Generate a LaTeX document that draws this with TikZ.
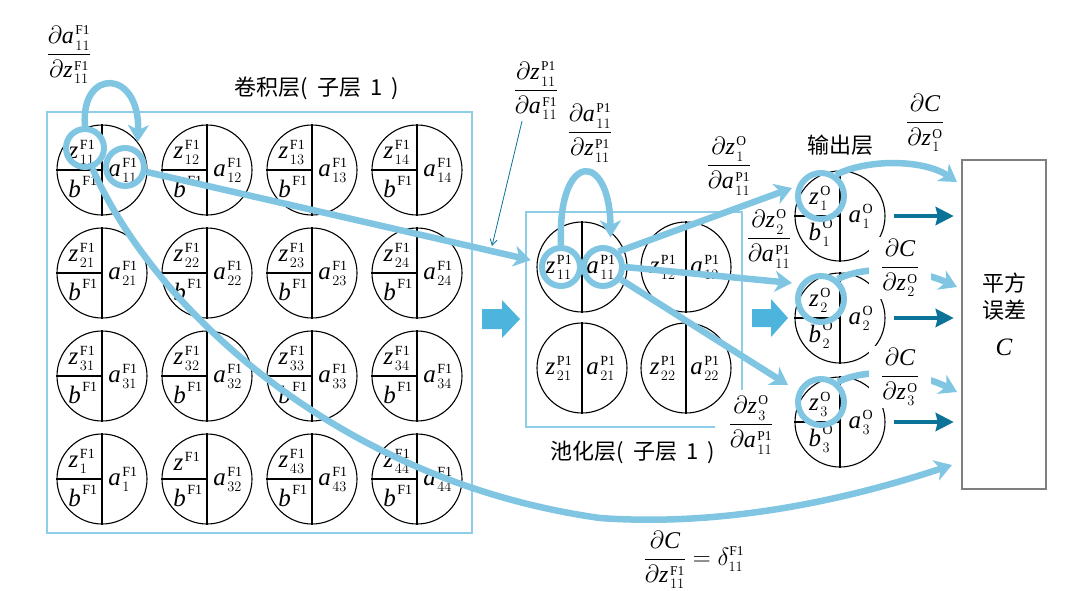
\documentclass[tikz,border=0pt]{standalone}
\usepackage{fontspec}
\setmainfont{Liberation Serif}
\newfontfamily\cjk{Noto Sans CJK SC}
\usetikzlibrary{arrows.meta}
\DeclareMathSizes{25}{25}{14}{10}
\DeclareMathSizes{24}{24}{13.5}{10}
\definecolor{lb}{HTML}{80C6E3}
\definecolor{boxb}{HTML}{8ECDE8}
\definecolor{bigb}{HTML}{4DB4DD}
\definecolor{deepb}{HTML}{0B7398}
\definecolor{gbox}{HTML}{7F7F7F}
\newcommand\supF{\mathrm{F1}}
\newcommand\supP{\mathrm{P1}}
\newcommand\supO{\mathrm{O}}
\newcommand\vz{{\textit{z}\kern1.5pt}}
\newcommand\va{{\textit{a}\kern1.5pt}}
\newcommand\vb{{\textit{b}\kern1.5pt}}
\newcommand\vC{\textit{C}}
\newcommand\qcell[6]{%
  \node[cell] (#1) at (#2,#3) {};
  \draw[line width=1.1pt] (#1.north) -- (#1.south) (#1.west) -- (#1.center);
  \node[lbl] (#1z) at (#2-20,#3-18) {$#4$};
  \node[lbl] (#1b) at (#2-19,#3+17) {$#5$};
  \node[lbl] (#1a) at (#2+21,#3) {$#6$};
}
\newcommand\hcell[5]{%
  \node[cell] (#1) at (#2,#3) {};
  \draw[line width=1.1pt] (#1.north) -- (#1.south);
  \node[lbl] (#1z) at (#2-23,#3) {$#4$};
  \node[lbl] (#1a) at (#2+19,#3) {$#5$};
}
\tikzset{
  cell/.style={circle,draw=black,line width=1.1pt,minimum size=90pt,inner sep=0pt},
  ring/.style={circle,draw=lb,line width=6pt,inner sep=0pt},
  flow/.style={draw=lb,line width=6.5pt,-{Stealth[length=17pt,width=21pt,inset=5pt]}},
  lbl/.style={inner sep=0pt,font=\fontsize{25}{27}\selectfont},
  frac/.style={inner sep=1pt,font=\fontsize{24}{26}\selectfont},
  ttl/.style={inner sep=0pt,font=\cjk\fontsize{22}{26}\selectfont},
  laybox/.style={draw=boxb,line width=2.5pt},
  outarrow/.style={draw=deepb,line width=4pt,-{Stealth[length=18pt,width=18pt,inset=2pt]}},
}
\begin{document}
\begin{tikzpicture}[x=1pt,y=-1pt]
\useasboundingbox (0,0) rectangle (1076,590);
% layer boxes
\draw[laybox] (47,112) rectangle (472,533);
\draw[laybox] (715,427) -- (526,427) -- (526,212) -- (742,212) -- (742,390);
% convolution layer
\qcell{c11}{102}{170}{\vz^{\supF}_{11}}{\vb^{\supF}}{\va^{\supF}_{11}}
\qcell{c12}{207}{170}{\vz^{\supF}_{12}}{\vb^{\supF}}{\va^{\supF}_{12}}
\qcell{c13}{312}{170}{\vz^{\supF}_{13}}{\vb^{\supF}}{\va^{\supF}_{13}}
\qcell{c14}{417}{170}{\vz^{\supF}_{14}}{\vb^{\supF}}{\va^{\supF}_{14}}
\qcell{c21}{102}{273}{\vz^{\supF}_{21}}{\vb^{\supF}}{\va^{\supF}_{21}}
\qcell{c22}{207}{273}{\vz^{\supF}_{22}}{\vb^{\supF}}{\va^{\supF}_{22}}
\qcell{c23}{312}{273}{\vz^{\supF}_{23}}{\vb^{\supF}}{\va^{\supF}_{23}}
\qcell{c24}{417}{273}{\vz^{\supF}_{24}}{\vb^{\supF}}{\va^{\supF}_{24}}
\qcell{c31}{102}{376}{\vz^{\supF}_{31}}{\vb^{\supF}}{\va^{\supF}_{31}}
\qcell{c32}{207}{376}{\vz^{\supF}_{32}}{\vb^{\supF}}{\va^{\supF}_{32}}
\qcell{c33}{312}{376}{\vz^{\supF}_{33}}{\vb^{\supF}}{\va^{\supF}_{33}}
\qcell{c34}{417}{376}{\vz^{\supF}_{34}}{\vb^{\supF}}{\va^{\supF}_{34}}
\qcell{c41}{102}{479}{\vz^{\supF}_{1}}{\vb^{\supF}}{\va^{\supF}_{1}}
\qcell{c42}{207}{479}{\vz^{\supF}}{\vb^{\supF}}{\va^{\supF}_{32}}
\qcell{c43}{312}{479}{\vz^{\supF}_{43}}{\vb^{\supF}}{\va^{\supF}_{43}}
\qcell{c44}{417}{479}{\vz^{\supF}_{44}}{\vb^{\supF}}{\va^{\supF}_{44}}
% pooling layer
\hcell{p11}{582}{267}{\vz^{\supP}_{11}}{\va^{\supP}_{11}}
\hcell{p12}{686}{267}{\vz^{\supP}_{12}}{\va^{\supP}_{12}}
\hcell{p21}{582}{368}{\vz^{\supP}_{21}}{\va^{\supP}_{21}}
\hcell{p22}{686}{368}{\vz^{\supP}_{22}}{\va^{\supP}_{22}}
% output layer
\qcell{o1}{840}{216}{\vz^{\supO}_{1}}{\vb^{\supO}_{1}}{\va^{\supO}_{1}}
\qcell{o2}{840}{318}{\vz^{\supO}_{2}}{\vb^{\supO}_{2}}{\va^{\supO}_{2}}
\qcell{o3}{840}{422}{\vz^{\supO}_{3}}{\vb^{\supO}_{3}}{\va^{\supO}_{3}}
% cost box
\node[draw=gbox,line width=2.5pt,minimum width=84pt,minimum height=329pt,inner sep=0pt] (cbox) at (1004,324.5) {};
\node[ttl] (ct1) at (1004,283) {平方};
\node[ttl] (ct2) at (1004,310) {误差};
\node[lbl] (ct3) at (1004,347) {\vC};
% block arrows
\fill[bigb] (482,309) -- (502,309) -- (502,300) -- (520,319) -- (502,338) -- (502,329) -- (482,329) -- cycle;
\fill[bigb] (752,309) -- (771,309) -- (771,299) -- (788,318) -- (771,337) -- (771,327) -- (752,327) -- cycle;
% rings
\node[ring,minimum size=38pt] (rz) at (85,148) {};
\node[ring,minimum size=38pt] (ra) at (125,167) {};
\node[ring,minimum size=38pt] (pz) at (561,267) {};
\node[ring,minimum size=38pt] (pa) at (603,267) {};
\node[ring,minimum size=46pt] (oz1) at (821,196) {};
\node[ring,minimum size=46pt] (oz2) at (821,299) {};
\node[ring,minimum size=46pt] (oz3) at (821,402) {};
% coordinates for free ends
\coordinate (t1) at (792,188);
\coordinate (t2) at (792,283);
\coordinate (t3) at (788,385);
\coordinate (e1) at (957,182);
\coordinate (e2) at (957,287);
\coordinate (e3) at (957,392);
\coordinate (e4) at (952,465);
\coordinate (tg) at (492,246);
% flows
\draw[flow,shorten >=7pt] (rz.north) .. controls (80,68) and (140,68) .. (ra.55);
\draw[flow,shorten >=9pt] (pz.north) .. controls (557,150) and (610,150) .. (pa.70);
\draw[flow,shorten >=9pt] (ra) -- (pz);
\draw[flow] (rz.-70) .. controls (150,300) and (330,480) .. (600,518) .. controls (740,528) and (870,492) .. (e4);
\draw[flow] (pa.45) -- (t1);
\draw[flow] (pa.east) -- (t2);
\draw[flow] (pa.-35) -- (t3);
\draw[flow] (oz1.55) .. controls (870,158) and (925,160) .. (e1);
\draw[flow] (oz2.50) .. controls (865,265) and (915,268) .. (e2);
\draw[flow] (oz3.50) .. controls (865,368) and (915,371) .. (e3);
% output arrows
\draw[outarrow,shorten <=8pt,shorten >=7pt] (o1.east) -- (o1.east -| cbox.west);
\draw[outarrow,shorten <=8pt,shorten >=7pt] (o2.east) -- (o2.east -| cbox.west);
\draw[outarrow,shorten <=8pt,shorten >=7pt] (o3.east) -- (o3.east -| cbox.west);
% titles
\node[ttl] (tconv) at (317,88) {卷积层(\hspace{9pt}子层\hspace{9pt}1\hspace{9pt})};
\node[ttl] (tpool) at (633,452) {池化层(\hspace{9pt}子层\hspace{9pt}1\hspace{9pt})};
\node[ttl] (tout) at (840,145) {输出层};
% fractions
\node[frac] (fa) at (69,55) {$\displaystyle\frac{\partial\va^{\supF}_{11}}{\partial\vz^{\supF}_{11}}$};
\node[frac] (fzpa) at (536,91) {$\displaystyle\frac{\partial\vz^{\supP}_{11}}{\partial\va^{\supF}_{11}}$};
\node[frac] (fap) at (590,133) {$\displaystyle\frac{\partial\va^{\supP}_{11}}{\partial\vz^{\supP}_{11}}$};
\node[frac] (f1) at (729,166) {$\displaystyle\frac{\partial\vz^{\supO}_{1}}{\partial\va^{\supP}_{11}}$};
\node[frac] (f2) at (769,239) {$\displaystyle\frac{\partial\vz^{\supO}_{2}}{\partial\va^{\supP}_{11}}$};
\node[frac] (f3) at (751,425) {$\displaystyle\frac{\partial\vz^{\supO}_{3}}{\partial\va^{\supP}_{11}}$};
\node[frac] (fc1) at (925,123) {$\displaystyle\frac{\partial\vC}{\partial\vz^{\supO}_{1}}$};
\node[frac,fill=white,inner xsep=12pt,inner ysep=2pt] (fc2) at (900,268) {$\displaystyle\frac{\partial\vC}{\partial\vz^{\supO}_{2}}$};
\node[frac,fill=white,inner xsep=12pt,inner ysep=2pt] (fc3) at (900,377) {$\displaystyle\frac{\partial\vC}{\partial\vz^{\supO}_{3}}$};
\node[frac] (fcz) at (694,560) {$\displaystyle\frac{\partial\vC}{\partial\vz^{\supF}_{11}}=\delta^{\supF}_{11}$};
% thin pointer
\draw[deepb,line width=0.8pt,-{Straight Barb[length=6pt,width=7pt]}] ([xshift=-14pt]fzpa.south) -- (tg);
\end{tikzpicture}
\end{document}
